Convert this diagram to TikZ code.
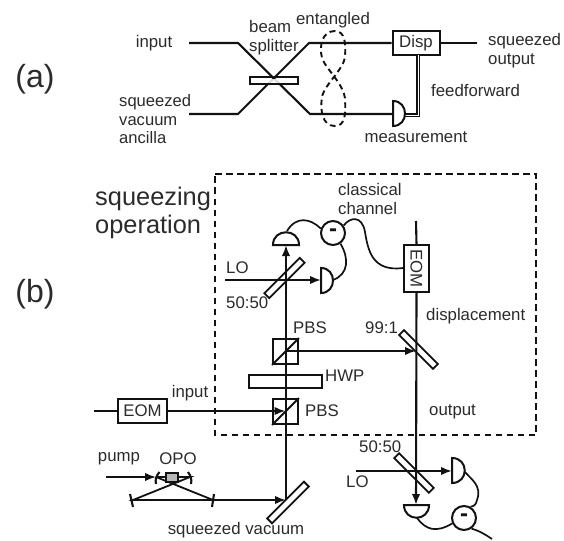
\documentclass[tikz,border=0pt]{standalone}
\usepackage{fontspec}
\setmainfont{Liberation Sans}
\usetikzlibrary{arrows.meta,calc}
\definecolor{ink}{gray}{0.07}
\definecolor{txt}{gray}{0.17}
\tikzset{
  ln/.style={line width=2.1pt,draw=ink},
  thin ln/.style={line width=1.8pt,draw=ink},
  arr/.style={ln,-{Latex[length=11pt,width=8.5pt]}},
  dashbox/.style={line width=2pt,draw=ink,dash pattern=on 6.5pt off 4.5pt},
  dasheight/.style={line width=1.9pt,draw=ink,dash pattern=on 5.5pt off 4pt},
  wire/.style={line width=1.7pt,draw=ink},
  lab/.style={font=\fontsize{16.8}{19}\selectfont,text=txt,inner sep=0pt,align=left},
  labw/.style={lab,anchor=west},
  big/.style={font=\fontsize{25.4}{28}\selectfont,text=txt,inner sep=0pt,align=left,anchor=west},
  part/.style={font=\fontsize{32}{36}\selectfont,text=txt,inner sep=0pt},
  boxn/.style={draw=ink,line width=2pt,fill=white,inner sep=0pt,font=\fontsize{16.8}{19}\selectfont,text=txt},
  plate/.style={draw=ink,line width=1.8pt,fill=white,inner sep=0pt,minimum height=7pt},
  det/.style={draw=ink,line width=2pt,fill=white},
  minusc/.style={circle,draw=ink,line width=2pt,fill=white,minimum size=24pt,inner sep=0pt,font=\bfseries\fontsize{24}{24}\selectfont,text=ink},
  pbs/.style={draw=ink,line width=1.8pt,minimum size=25pt,inner sep=0pt},
  twin/.style={draw=ink,line width=1.7pt,double=white,double distance=0.9pt},
}
\begin{document}
\begin{tikzpicture}[x=1pt,y=-1pt]
\useasboundingbox (0,0) rectangle (564,540);
% ---------- (a)
\node[part] (pa) at (35,79) {(a)};
\node[lab] (tinput) at (154,43) {input};
\node[labw] (tbs) at (249,38) {beam\\splitter};
\node[lab] (tent) at (333,20) {entangled};
\node[labw] (tout) at (488,50.5) {squeezed\\output};
\node[labw] (tff) at (431,90) {feedforward};
\node[lab] (tmeas) at (416,137) {measurement};
\node[labw,font=\fontsize{16.6}{18.5}\selectfont] (tanc) at (119,119.5) {squeezed\\vacuum\\ancilla};
\node[boxn,minimum width=47pt,minimum height=24pt] (disp) at (416,43) {Disp};
\coordinate (a1) at (189,43); \coordinate (a2) at (238,43);
\coordinate (a3) at (310,114); \coordinate (a4) at (393,114);
\coordinate (b1) at (189,114); \coordinate (b2) at (238,114);
\coordinate (b3) at (309,43);
\coordinate (oute) at (477,43);
\node[plate,minimum width=48pt,line width=2pt] (bsa) at (274,81) {};
\draw[ln] (a1) -- (a2) -- (a3) -- (a4);
\draw[ln] (b1) -- (b2) -- (b3) -- (disp.west);
\draw[ln] (disp.east) -- (oute);
\node[fill=white,minimum width=26pt,minimum height=3.2pt,inner sep=0pt,fill opacity=.85] (bsm) at (274,81) {};
\draw[dasheight] (335,31)
  .. controls (322,31) and (319,46) .. (322,58)
  .. controls (325,68) and (345,85) .. (345,100)
  .. controls (346,114) and (345,126) .. (335,126)
  .. controls (322,126) and (320,110) .. (322,97)
  .. controls (324,85) and (345,68) .. (345,56)
  .. controls (346,44) and (345,31) .. (335,31);
\coordinate (ffb) at (418,115); \coordinate (ffe) at (404,115); \coordinate (fft) at (418,55);
\draw[twin] (fft) -- (ffb) -- (ffe);
\draw[det] (393,101) .. controls (409,101) and (409,126) .. (393,126) -- cycle;
% ---------- (b)
\node[part] (pb) at (35,294) {(b)};
\node[big] (tsq) at (95,212.5) {squeezing\\operation};
\draw[dashbox] (215,174) -- (536,174) -- (536,435) -- (215,435) -- cycle;
\node[labw] (tcl) at (338,198.5) {classical\\channel};
\node[labw] (tlo) at (226,268) {LO};
\node[labw] (t50) at (226,303) {50:50};
\node[labw] (tpbs) at (293,328) {PBS};
\node[labw] (t99) at (365,328) {99:1};
\node[labw] (tdis) at (426,316) {displacement};
\node[labw] (thwp) at (325,376) {HWP};
\node[labw] (tpbs2) at (305,411) {PBS};
\node[lab] (tin2) at (190,393) {input};
\node[labw] (toutp) at (429,412) {output};
\node[labw] (t502) at (359,447) {50:50};
\node[labw] (tlo2) at (346,482) {LO};
\node[lab] (tpump) at (119,459) {pump};
\node[lab] (topo) at (178,459) {OPO};
\node[lab] (tsv) at (236,530) {squeezed vacuum};
% named points
\coordinate (m1) at (286,500);
\coordinate (d1) at (286,245);
\coordinate (lo1) at (225,280);
\coordinate (d2) at (321,280);
\coordinate (pu) at (285.5,351);
\coordinate (pl) at (285.5,411);
\coordinate (m99) at (416,351);
\coordinate (eomtop) at (416,221);
\coordinate (d3) at (416,505);
\coordinate (lo3) at (356,471);
\coordinate (d4) at (452,471);
\coordinate (in0) at (94,411);
% parts behind beams
\node[boxn,minimum width=49pt,minimum height=24pt] (eomh) at (142.5,411) {EOM};
\node[boxn,minimum width=47pt,minimum height=25pt,rotate=-90] (eomv) at (416.5,268.5) {EOM};
\node[plate,minimum width=50pt,rotate=45] (bsb) at (284.5,278) {};
\node[plate,minimum width=52pt,rotate=45] (mir) at (288,502.5) {};
\node[plate,minimum width=48pt,rotate=-45] (m99p) at (418.5,349.5) {};
\node[plate,minimum width=49pt,rotate=-45] (bs3p) at (414,473) {};
\node[plate,minimum width=73pt,minimum height=13pt] (hwp) at (285.5,381.5) {};
\node[pbs] (pbsu) at (285.5,351.5) {};
\node[pbs] (pbsl) at (285.5,411.5) {};
\draw[thin ln] (pbsu.south west) -- (pbsu.north east);
\draw[thin ln] (pbsl.south west) -- (pbsl.north east);
% beams
\draw[arr] (m1) -- (d1);
\draw[arr] (lo1) -- (d2);
\draw[ln] (in0) -- (eomh.west);
\draw[arr] (eomh.east) -- (pl);
\draw[arr] (pu) -- (m99);
\draw[ln] (eomtop) -- (eomv.west);
\draw[arr] (eomv.east) -- (d3);
\draw[arr] (lo3) -- (d4);
% detectors
\draw[det] (273,245) .. controls (273,228) and (299,228) .. (299,245) -- cycle;
\draw[det] (321,268) .. controls (337,268) and (337,293) .. (321,293) -- cycle;
\draw[det] (404,505) .. controls (404,522) and (429,522) .. (429,505) -- cycle;
\draw[det] (452,458) .. controls (469,458) and (469,483) .. (452,483) -- cycle;
% difference circuits
\node[minusc] (mi1) at (333,233) {-};
\node[minusc] (mi2) at (464,518) {-};
\coordinate (d1w) at (287,231); \coordinate (d2w) at (333,280);
\coordinate (d3w) at (417,518); \coordinate (d4w) at (465,472);
\coordinate (wend) at (492,539);
\draw[wire] (d1w) .. controls (296,216) and (310,218) .. (mi1.160);
\draw[wire] (mi1.35) .. controls (350,217) and (362,215) .. (365,232)
  .. controls (368,250) and (372,272) .. (eomv.south |- 0,268);
\draw[wire] (mi1.-55) .. controls (349,258) and (349,274) .. (d2w);
\draw[wire] (d4w) .. controls (472,480) and (482,486) .. (477,500) .. controls (476,504) and (475,506) .. (mi2.60);
\draw[wire] (d3w) .. controls (426,530) and (436,533) .. (mi2.205);
\draw[wire] (mi2.-55) .. controls (480,531) and (486,535) .. (wend);
% OPO
\coordinate (pm0) at (106,477); \coordinate (opoL) at (156,477); \coordinate (opoR) at (190,477);
\coordinate (opoC) at (133,500); \coordinate (opoD) at (213,500);
\draw[arr,line width=1.8pt] (pm0) -- (opoL);
\draw[thin ln] (opoL) -- (opoR) -- (opoC) -- (opoD) -- (opoL);
\draw[ln] (159.5,472) .. controls (156,476) and (155,480) .. (156,484);
\draw[ln] (188,472) .. controls (191,476) and (192,480) .. (191,484);
\draw[ln] (130,494) -- (133,507);
\draw[ln] (214,494) -- (212,507);
\draw[arr] (opoD) -- (m1);
\node[draw=ink,line width=1.5pt,fill=gray!55,minimum width=12pt,minimum height=9pt,inner sep=0pt] (crys) at (172,477.5) {};
\end{tikzpicture}
\end{document}
